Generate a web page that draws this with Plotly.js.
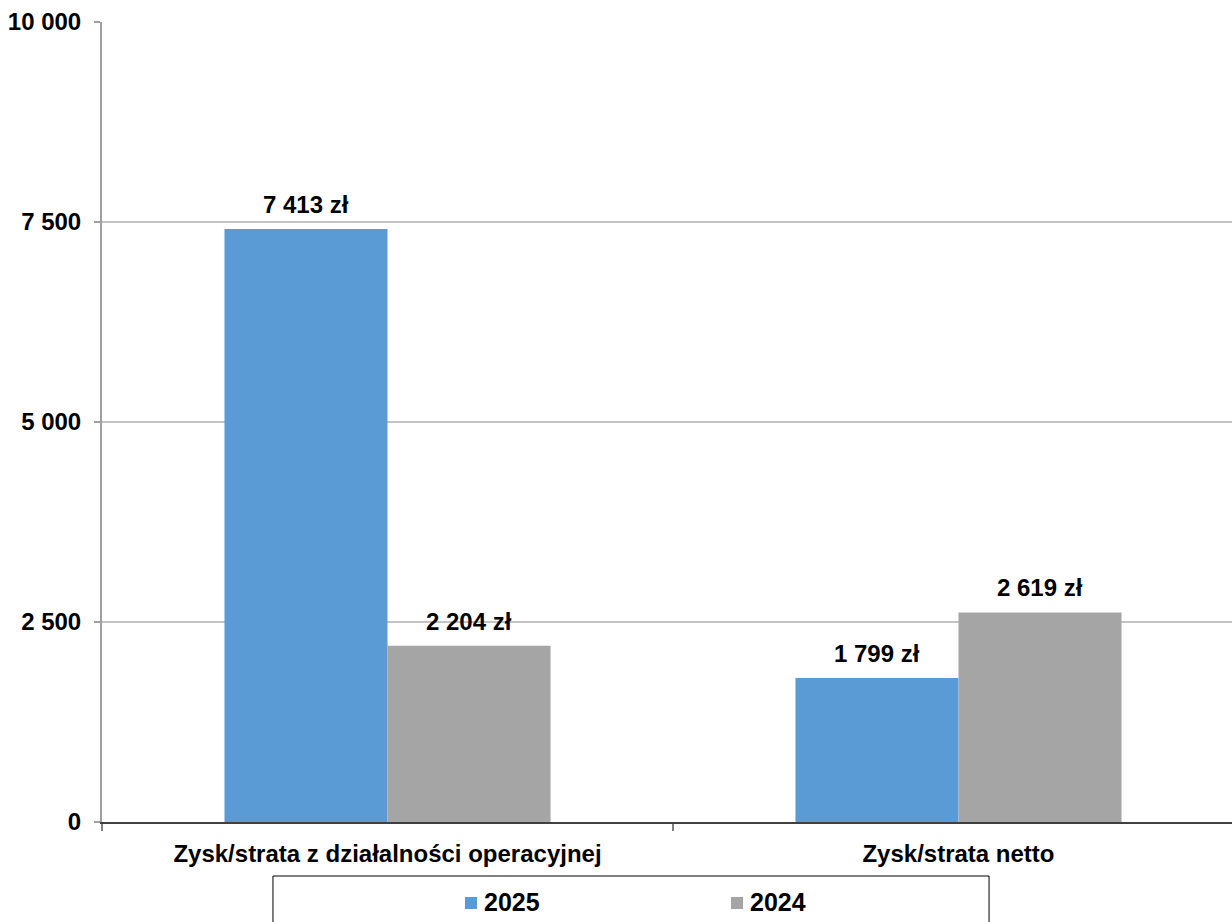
<!DOCTYPE html>
<html><head><meta charset="utf-8">
<script src="https://cdn.plot.ly/plotly-3.0.1.min.js"></script>
<style>html,body{margin:0;padding:0;overflow:hidden;background:#fff}</style>
</head><body><div id="chart" style="width:1232px;height:922px"></div>
<script>
const categories = ["Zysk/strata z działalności operacyjnej", "Zysk/strata netto"];
const series2025 = [7413, 1799];
const series2024 = [2204, 2619];
const seriesNames = ["2025", "2024"];
const seriesColors = ["#5B9BD5", "#A5A5A5"];
const yTicks = [0, 2500, 5000, 7500, 10000];

function fmt(v){ return String(v).replace(/\B(?=(\d{3})+(?!\d))/g, " ") + " zł"; }

const font = "Liberation Sans, Arial, sans-serif";
const traces = [
  {type:"bar", name:seriesNames[0], x:categories, y:series2025, marker:{color:seriesColors[0]}},
  {type:"bar", name:seriesNames[1], x:categories, y:series2024, marker:{color:seriesColors[1]}}
];
const annotations = [];
[series2025, series2024].forEach((s, si) => {
  s.forEach((v, i) => {
    annotations.push({x:categories[i], y:v, xref:"x", yref:"y", text:"<b>"+fmt(v)+"</b>",
      showarrow:false, xshift: si===0 ? -81.5 : 81.5, yanchor:"bottom", yshift:9,
      font:{family:font, size:24, color:"#000"}});
  });
});
// manual legend (box, swatches, labels)
const legendX = [0.3212, 0.5566];
const shapes = [{type:"rect", xref:"paper", yref:"paper", x0:0.1513, x1:0.785, y0:-0.0675, y1:-0.2,
    line:{color:"#000", width:1}, fillcolor:"rgba(0,0,0,0)", layer:"below"}];
seriesNames.forEach((n, i) => {
  shapes.push({type:"rect", xref:"paper", yref:"paper", x0:legendX[i], x1:legendX[i]+0.0107,
    y0:-0.09375, y1:-0.10875, line:{width:0}, fillcolor:seriesColors[i]});
  annotations.push({xref:"paper", yref:"paper", x:legendX[i]+0.0155, y:-0.1, xanchor:"left", yanchor:"middle",
    text:"<b>"+n+"</b>", showarrow:false, font:{family:font, size:25, color:"#000"}});
});
const layout = {
  width:1232, height:922,
  margin:{l:102, r:0, t:22, b:100},
  paper_bgcolor:"#fff", plot_bgcolor:"#fff",
  separators:", ",
  barmode:"group", bargap:0.429, bargroupgap:0,
  showlegend:false,
  shapes: shapes,
  xaxis:{type:"category", range:[-0.5, 1.479], showline:true, linecolor:"#404040", linewidth:2,
    ticks:"outside", tickson:"boundaries", ticklen:7, tickcolor:"#808080", tickwidth:2,
    showgrid:false, ticklabelstandoff:9, automargin:false,
    tickfont:{family:font, size:24, color:"#000", weight:"bold"}},
  yaxis:{range:[0, 10000], tickvals:yTicks, tickformat:",.0f", showline:true, linecolor:"#a0a0a0", linewidth:2,
    ticks:"outside", ticklen:6, tickcolor:"#a0a0a0", tickwidth:2, automargin:false,
    gridcolor:"#c4c4c4", gridwidth:2, zeroline:false, ticklabelstandoff:8,
    tickfont:{family:font, size:24, color:"#000", weight:"bold"}},
  annotations: annotations
};
Plotly.newPlot("chart", traces, layout, {displayModeBar:false, staticPlot:true});
</script></body></html>
